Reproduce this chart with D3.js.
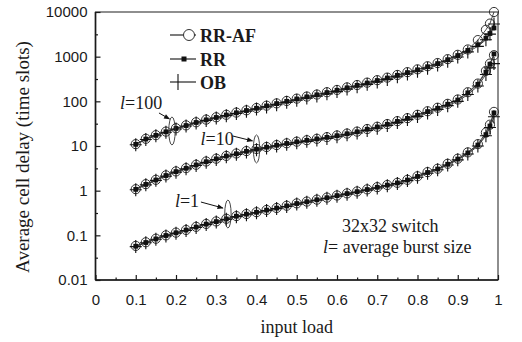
<!DOCTYPE html>
<html>
<head>
<meta charset="utf-8">
<script src="https://cdn.jsdelivr.net/npm/d3@7"></script>
<style>
  body { margin: 0; background: #fff; }
  svg { display: block; }
</style>
</head>
<body>
<div id="chart"></div>
<script>
// input load values (x) shared by every series
var loads = [0.1,0.125,0.15,0.175,0.2,0.225,0.25,0.275,0.3,0.325,0.35,0.375,0.4,0.425,0.45,0.475,0.5,0.525,0.55,0.575,0.6,0.625,0.65,0.675,0.7,0.725,0.75,0.775,0.8,0.825,0.85,0.875,0.9,0.925,0.95,0.97,0.98,0.99];

// l = 1
var rrafL1 = [0.058,0.07,0.084,0.1,0.115,0.132,0.155,0.18,0.205,0.235,0.27,0.3,0.33,0.37,0.41,0.46,0.52,0.57,0.63,0.7,0.78,0.87,0.96,1.07,1.2,1.34,1.5,1.75,2.1,2.6,3.1,4.0,5.2,7.2,11,20,30,58];
var rrL1   = [0.057,0.069,0.083,0.099,0.114,0.131,0.153,0.178,0.203,0.233,0.268,0.298,0.328,0.367,0.407,0.455,0.515,0.565,0.625,0.695,0.775,0.86,0.95,1.06,1.19,1.33,1.49,1.73,2.08,2.55,3.05,3.9,5.1,7.0,10.5,18,28,55];
var obL1   = [0.056,0.068,0.082,0.097,0.112,0.128,0.15,0.174,0.198,0.228,0.262,0.29,0.32,0.358,0.397,0.443,0.5,0.55,0.61,0.675,0.75,0.835,0.92,1.03,1.15,1.29,1.44,1.68,2.0,2.45,2.95,3.75,4.9,6.6,10,17,26,45];

// l = 10
var rrafL10 = [1.08,1.4,1.75,2.2,2.7,3.2,3.8,4.5,5.2,6.0,6.8,7.7,8.6,9.5,10.5,11.5,12.5,13.5,14.5,15.8,17.2,19,21,24,27,31,36,42,50,60,72,88,110,160,250,480,700,1080];
var rrL10   = [1.07,1.38,1.73,2.18,2.67,3.17,3.76,4.45,5.15,5.95,6.7,7.6,8.5,9.4,10.4,11.4,12.4,13.4,14.4,15.6,17,18.8,20.8,23.7,26.7,30.6,35.5,41.5,49,59,70,86,107,155,240,450,680,1150];
var obL10   = [1.05,1.35,1.7,2.12,2.6,3.08,3.65,4.3,5.0,5.75,6.5,7.35,8.2,9.05,10,10.9,11.8,12.7,13.6,14.8,16.1,17.8,19.6,22.3,25,28.8,33.4,39,46,55,66,80,100,142,220,400,560,700];

// l = 100
var rrafL100 = [11,14.5,17.5,21,25,29,34,39,44,50,56,63,71,80,90,102,115,128,142,160,180,205,232,262,298,340,390,450,520,610,720,880,1100,1450,2350,4000,5500,10000];
var rrL100   = [10.9,14.3,17.3,20.8,24.7,28.7,33.6,38.5,43.5,49.4,55.3,62.2,70,79,89,100,113,126,140,157,177,201,228,257,292,333,382,440,508,595,700,855,1060,1380,1850,2600,3300,4400];
var obL100   = [10.7,14,17,20.3,24.1,28,32.7,37.4,42.2,47.8,53.4,59.8,67,75,84,95,106,118,131,147,165,188,212,240,272,310,355,408,470,550,650,790,980,1280,1700,2400,3200,5400];

// axis ticks
var xTicks = [0,0.1,0.2,0.3,0.4,0.5,0.6,0.7,0.8,0.9,1];
var xTickLabels = ["0","0.1","0.2","0.3","0.4","0.5","0.6","0.7","0.8","0.9","1"];
var xMinorTicks = [0.05,0.15,0.25,0.35,0.45,0.55,0.65,0.75,0.85,0.95];
var yTicks = [0.01,0.1,1,10,100,1000,10000];
var yTickLabels = ["0.01","0.1","1","10","100","1000","10000"];
var yMinorTicks = [0.0316,0.316,3.16,31.6,316,3162];

// annotation anchors: [label, load, delay] of the ellipse round each family
var familyNotes = [["100",0.19,21.7],["10",0.4,8.6],["1",0.329,0.3]];

var legendNames = ["RR-AF","RR","OB"];

var width = 522, height = 342;
var plot = {left: 95.5, right: 498, top: 12, bottom: 280};
var INK = "#1a1a1a";

var svg = d3.select("#chart").append("svg")
	.attr("width", width)
	.attr("height", height);

var x = d3.scaleLinear().domain([0,1]).range([plot.left, plot.right]);
var y = d3.scaleLog().domain([0.01,10000]).range([plot.bottom, plot.top]);

// frame
svg.append("rect")
	.attr("x", plot.left).attr("y", plot.top)
	.attr("width", plot.right - plot.left).attr("height", plot.bottom - plot.top)
	.attr("fill", "none").attr("stroke", "#444").attr("stroke-width", 1.2);
svg.append("line")
	.attr("x1", plot.left).attr("x2", plot.left).attr("y1", plot.top).attr("y2", plot.bottom)
	.attr("stroke", INK).attr("stroke-width", 1.6);
svg.append("line")
	.attr("x1", plot.left).attr("x2", plot.right).attr("y1", plot.bottom).attr("y2", plot.bottom)
	.attr("stroke", INK).attr("stroke-width", 1.6);

// X axis
var xAxis = svg.append("g")
	.attr("transform", "translate(0," + plot.bottom + ")")
	.call(d3.axisBottom(x)
		.tickValues(xTicks)
		.tickSize(-5)
		.tickSizeOuter(0)
		.tickPadding(14)
		.tickFormat((d,i) => xTickLabels[i]));
xAxis.select(".domain").remove();
svg.append("g")
	.attr("transform", "translate(0," + plot.bottom + ")")
	.call(d3.axisBottom(x).tickValues(xMinorTicks).tickSize(-2.5).tickSizeOuter(0).tickFormat(""))
	.select(".domain").remove();

// Y axis
var yAxis = svg.append("g")
	.attr("transform", "translate(" + plot.left + ",0)")
	.call(d3.axisLeft(y)
		.tickValues(yTicks)
		.tickSize(-5)
		.tickSizeOuter(0)
		.tickPadding(8)
		.tickFormat((d,i) => yTickLabels[i]));
yAxis.select(".domain").remove();
svg.append("g")
	.attr("transform", "translate(" + plot.left + ",0)")
	.call(d3.axisLeft(y).tickValues(yMinorTicks).tickSize(-2.5).tickSizeOuter(0).tickFormat(""))
	.select(".domain").remove();

svg.selectAll(".tick line").attr("stroke", INK).attr("stroke-width", 1.2);
svg.selectAll(".tick text")
	.attr("font-family", "Liberation Sans, Arial, sans-serif")
	.attr("font-size", "15px")
	.attr("fill", INK);

// axis titles
svg.append("text")
	.attr("x", (plot.left + plot.right) / 2)
	.attr("y", 333)
	.attr("text-anchor", "middle")
	.attr("font-family", "Liberation Serif, Times New Roman, serif")
	.attr("font-size", "18px")
	.attr("fill", INK)
	.text("input load");
svg.append("text")
	.attr("transform", "translate(29," + ((plot.top + plot.bottom) / 2 + 11) + ")rotate(-90)")
	.attr("text-anchor", "middle")
	.attr("font-family", "Liberation Serif, Times New Roman, serif")
	.attr("font-size", "19px")
	.attr("fill", INK)
	.text("Average cell delay (time slots)");

// series
var families = [
	{rraf: rrafL1, rr: rrL1, ob: obL1},
	{rraf: rrafL10, rr: rrL10, ob: obL10},
	{rraf: rrafL100, rr: rrL100, ob: obL100}
];

var line = d3.line()
	.x(d => x(d[0]))
	.y(d => y(d[1]));

function pairs(vals) { return loads.map((l,i) => [l, vals[i]]); }

var curves = svg.append("g");
families.forEach(function(f) {
	[f.rraf, f.rr, f.ob].forEach(function(vals) {
		curves.append("path")
			.datum(pairs(vals))
			.attr("d", line)
			.attr("fill", "none")
			.attr("stroke", "#333")
			.attr("stroke-width", 0.9);
	});
});

var marks = svg.append("g");
families.forEach(function(f) {
	marks.append("g").selectAll("circle")
		.data(pairs(f.rraf))
		.enter().append("circle")
		.attr("cx", d => x(d[0]))
		.attr("cy", d => y(d[1]))
		.attr("r", 4.6)
		.attr("fill", "none")
		.attr("stroke", "#333")
		.attr("stroke-width", 1);

	marks.append("g").selectAll("rect")
		.data(pairs(f.rr))
		.enter().append("rect")
		.attr("x", d => x(d[0]) - 2.4)
		.attr("y", d => y(d[1]) - 2.4)
		.attr("width", 4.8)
		.attr("height", 4.8)
		.attr("fill", "#111");

	marks.append("g").selectAll("path")
		.data(pairs(f.ob))
		.enter().append("path")
		.attr("d", function(d) {
			var cx = x(d[0]), cy = y(d[1]);
			return "M" + (cx - 6) + "," + cy + "H" + (cx + 6) + "M" + cx + "," + (cy - 6.5) + "V" + (cy + 6.5);
		})
		.attr("stroke", "#111")
		.attr("stroke-width", 1.1);
});

// legend
var legend = svg.append("g");
var legendY = [35, 59, 82];
legendNames.forEach(function(name, i) {
	var ly = legendY[i];
	legend.append("line")
		.attr("x1", 170).attr("x2", 196).attr("y1", ly).attr("y2", ly)
		.attr("stroke", "#111").attr("stroke-width", 1.1);
	legend.append("text")
		.attr("x", 200).attr("y", ly + 6.5)
		.attr("font-family", "Liberation Serif, Times New Roman, serif")
		.attr("font-weight", "bold")
		.attr("font-size", "18px")
		.attr("fill", INK)
		.text(name);
});
legend.append("circle")
	.attr("cx", 189).attr("cy", legendY[0]).attr("r", 5.5)
	.attr("fill", "#fff").attr("stroke", "#333").attr("stroke-width", 1);
legend.append("rect")
	.attr("x", 181.5).attr("y", legendY[1] - 2.5).attr("width", 5).attr("height", 5)
	.attr("fill", "#111");
legend.append("line")
	.attr("x1", 178).attr("x2", 178).attr("y1", legendY[2] - 8).attr("y2", legendY[2] + 8)
	.attr("stroke", "#111").attr("stroke-width", 1.1);

// family annotations: label, arrow and ellipse
svg.append("defs").append("marker")
	.attr("id", "arrow")
	.attr("viewBox", "0 0 10 10")
	.attr("refX", 9).attr("refY", 5)
	.attr("markerWidth", 7).attr("markerHeight", 6)
	.attr("markerUnits", "userSpaceOnUse")
	.attr("orient", "auto")
	.append("path")
	.attr("d", "M0,1L10,5L0,9Z")
	.attr("fill", "#111");

var noteOffsets = [
	// text position, arrow start and arrow end relative to the ellipse centre
	{tx: -52, ty: -22, ax: -13, ay: -18, bx: -2.5, by: -12},
	{tx: -56, ty: -4, ax: -24, ay: -13, bx: -4, by: -8},
	{tx: -53, ty: -7, ax: -27, ay: -12, bx: -5, by: -6}
];
var annot = svg.append("g")
	.attr("font-family", "Liberation Serif, Times New Roman, serif")
	.attr("font-size", "18px")
	.attr("fill", INK);
familyNotes.forEach(function(n, i) {
	var cx = x(n[1]), cy = y(n[2]), o = noteOffsets[i];
	annot.append("ellipse")
		.attr("cx", cx).attr("cy", cy).attr("rx", 3.2).attr("ry", 14)
		.attr("fill", "none").attr("stroke", "#333").attr("stroke-width", 0.9);
	var t = annot.append("text").attr("x", cx + o.tx).attr("y", cy + o.ty);
	t.append("tspan").attr("font-style", "italic").text("l");
	t.append("tspan").text("=" + n[0]);
	annot.append("line")
		.attr("x1", cx + o.ax).attr("y1", cy + o.ay)
		.attr("x2", cx + o.bx).attr("y2", cy + o.by)
		.attr("stroke", "#111").attr("stroke-width", 1)
		.attr("marker-end", "url(#arrow)");
});

// caption
annot.append("text").attr("x", 342).attr("y", 232).text("32x32 switch");
var cap = annot.append("text").attr("x", 323).attr("y", 253);
cap.append("tspan").attr("font-style", "italic").text("l");
cap.append("tspan").text("= average burst size");
</script>
</body>
</html>
